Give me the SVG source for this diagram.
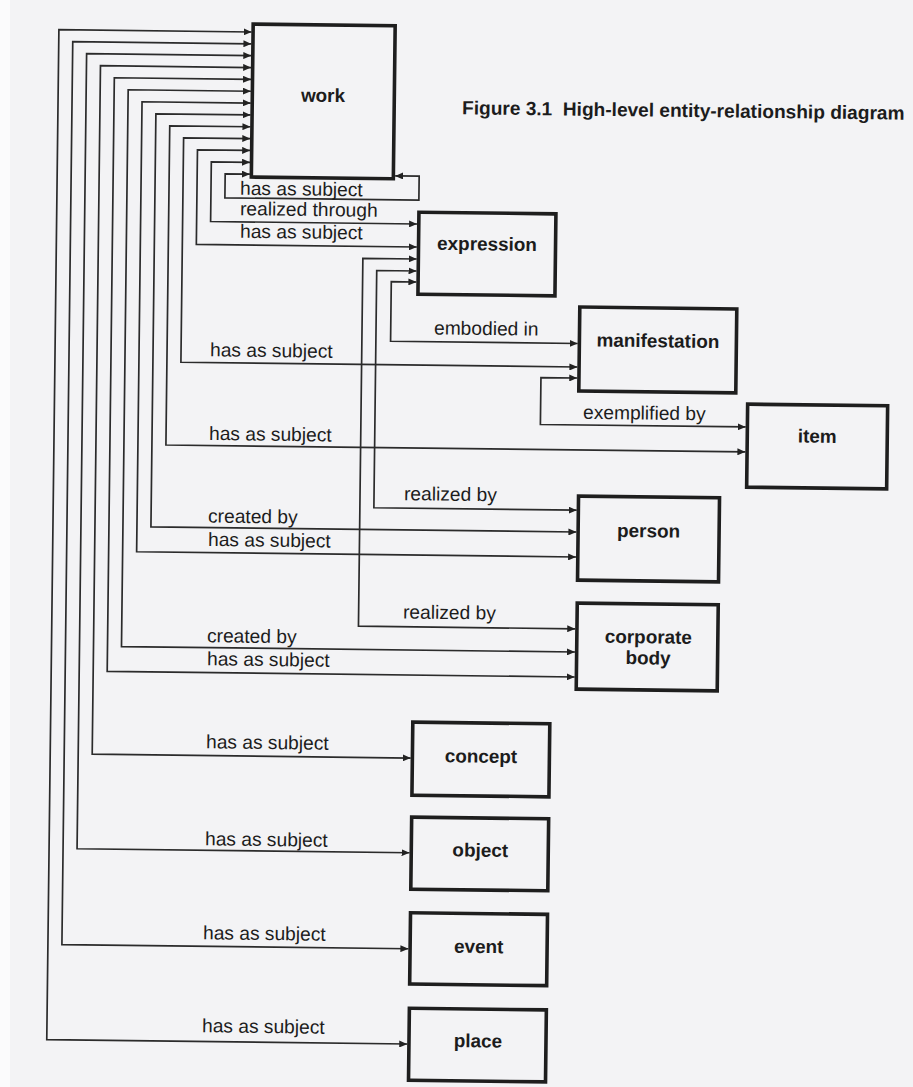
<svg xmlns="http://www.w3.org/2000/svg" width="913" height="1087" viewBox="0 0 913 1087">
<style>
.box{fill:none;stroke:#1e1e1e;stroke-width:3.6}
.ln{fill:none;stroke:#2b2b2b;stroke-width:1.7;marker-start:url(#ah);marker-end:url(#ah)}
.lbl{font-family:"Liberation Sans",Arial,sans-serif;font-size:19.2px;fill:#1c1c1c}
.nm{font-family:"Liberation Sans",Arial,sans-serif;font-size:18.9px;font-weight:bold;fill:#1c1c1c;text-anchor:middle}
.ttl{font-family:"Liberation Sans",Arial,sans-serif;font-size:19.1px;font-weight:bold;fill:#1c1c1c}
</style>
<defs>
<marker id="ah" viewBox="0 0 8 7" refX="8" refY="3.5" markerWidth="8" markerHeight="7" markerUnits="userSpaceOnUse" orient="auto-start-reverse"><path d="M0,0L8,3.5L0,7z" fill="#222"/></marker>
</defs>
<rect width="913" height="1087" fill="#f3f3f5"/>
<rect width="10" height="1087" fill="#fbfbfc"/>
<g transform="rotate(0.688 450 540)">
<g id="connectors">
<path class="ln" d="M245.5,34.4H52.8V1044.5H413.3"/>
<path class="ln" d="M245.5,46.25H66.8V949.2H413.3"/>
<path class="ln" d="M245.5,58.1H80.8V853.2H413.3"/>
<path class="ln" d="M245.5,69.95H94.8V758.5H413.3"/>
<path class="ln" d="M245.5,81.8H108.8V675.5H576.3"/>
<path class="ln" d="M245.5,93.65H122.8V650.5H576.3"/>
<path class="ln" d="M245.5,105.5H136.8V555.5H576.3"/>
<path class="ln" d="M245.5,117.35H150.8V530.5H576.3"/>
<path class="ln" d="M245.5,129.2H164.8V448.4H744.3"/>
<path class="ln" d="M245.5,141.05H178.8V365.5H575.3"/>
<path class="ln" d="M245.5,152.9H192.8V247.4H413.3"/>
<path class="ln" d="M245.5,164.75H206.8V224.4H413.3"/>
<path class="ln" d="M245.5,176.6H220.8V200.6H414.8V176.6H390.8"/>
<path class="ln" d="M413.3,282.4H388.2V342H575.3"/>
<path class="ln" d="M413.3,271.4H373.5V508.7H576.3"/>
<path class="ln" d="M413.3,259.4H359.5V627.3H576.3"/>
<path class="ln" d="M575.3,376.5H539V423.4H744.3"/>
<text class="lbl" x="235.9" y="197.3">has as subject</text>
<text class="lbl" x="236.1" y="217.7">realized through</text>
<text class="lbl" x="236.4" y="240.3">has as subject</text>
<text class="lbl" x="431.5" y="334.6">embodied in</text>
<text class="lbl" x="207.8" y="359.2">has as subject</text>
<text class="lbl" x="581.5" y="417.2">exemplified by</text>
<text class="lbl" x="207.8" y="442.9">has as subject</text>
<text class="lbl" x="403.5" y="500.7">realized by</text>
<text class="lbl" x="207.8" y="525.4">created by</text>
<text class="lbl" x="208.1" y="548.9">has as subject</text>
<text class="lbl" x="403.9" y="619">realized by</text>
<text class="lbl" x="208.2" y="645.1">created by</text>
<text class="lbl" x="208.5" y="668.2">has as subject</text>
<text class="lbl" x="208.5" y="751.2">has as subject</text>
<text class="lbl" x="208.7" y="848.2">has as subject</text>
<text class="lbl" x="207.8" y="942.2">has as subject</text>
<text class="lbl" x="207.9" y="1035.2">has as subject</text>
</g>
<g id="work"><rect class="box" x="247" y="26.5" width="142" height="153"/><text class="nm" x="317.7" y="103.5">work</text></g>
<g id="expression"><rect class="box" x="415" y="212.6" width="137" height="82"/><text class="nm" x="483.5" y="250">expression</text></g>
<g id="manifestation"><rect class="box" x="577" y="305.5" width="157" height="84"/><text class="nm" x="655.5" y="344.8">manifestation</text></g>
<g id="item"><rect class="box" x="746" y="400.6" width="140" height="83"/><text class="nm" x="816" y="438.3">item</text></g>
<g id="person"><rect class="box" x="578" y="494.6" width="141" height="84"/><text class="nm" x="648.5" y="534.9">person</text></g>
<g id="corporate-body"><rect class="box" x="578" y="601.6" width="141" height="86"/><text class="nm" x="649.5" y="641">corporate</text><text class="nm" x="649.5" y="662">body</text></g>
<g id="concept"><rect class="box" x="415" y="722.6" width="137" height="73"/><text class="nm" x="483.6" y="762.3">concept</text></g>
<g id="object"><rect class="box" x="415" y="817.6" width="137" height="72"/><text class="nm" x="484" y="856.3">object</text></g>
<g id="event"><rect class="box" x="415" y="913.2" width="137" height="71.3"/><text class="nm" x="483.7" y="952.6">event</text></g>
<g id="place"><rect class="box" x="415" y="1008.7" width="137" height="72"/><text class="nm" x="484" y="1047">place</text></g>
<text id="title" class="ttl" x="456.9" y="114.2" xml:space="preserve">Figure 3.1  High-level entity-relationship diagram</text>
</g>
</svg>
